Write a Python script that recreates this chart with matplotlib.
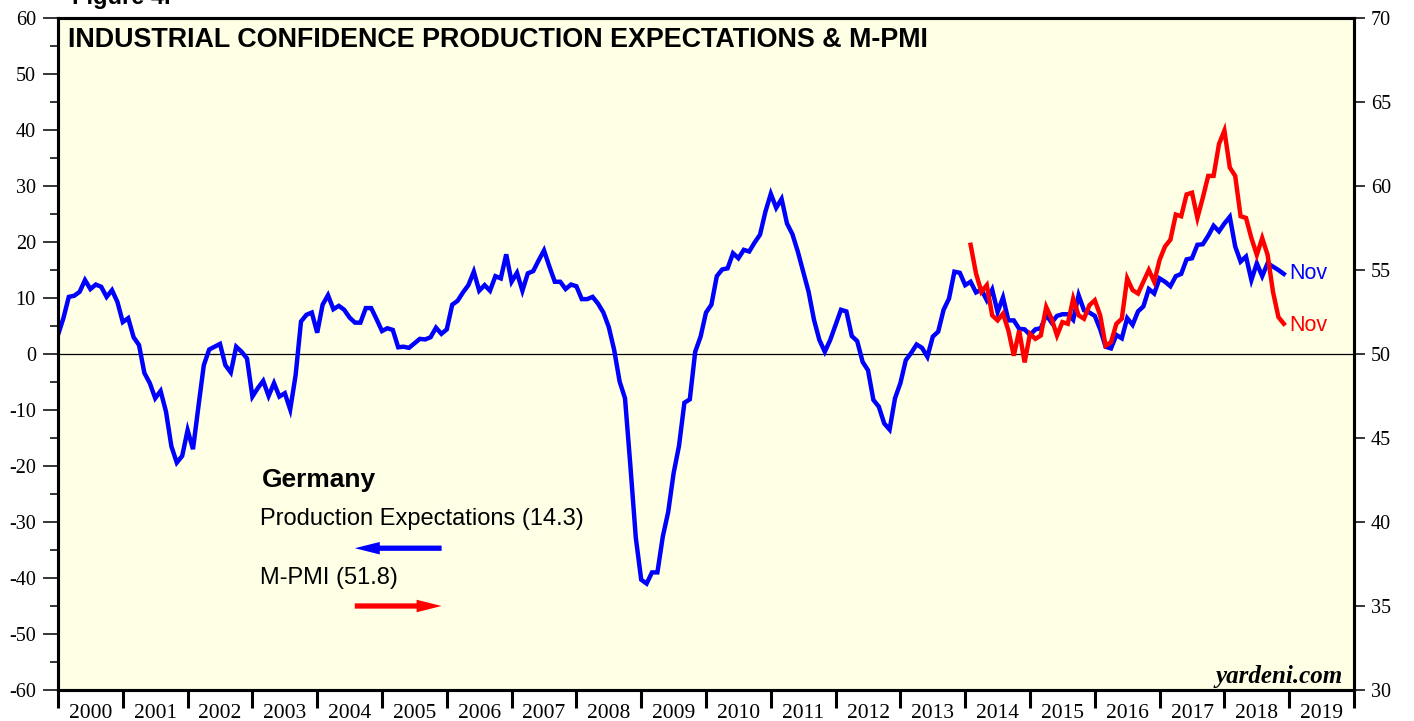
import numpy as np
import pandas as pd
import matplotlib
matplotlib.use('Agg')
import matplotlib.pyplot as plt

plt.rcParams['axes.unicode_minus'] = False

# Germany: industrial confidence, production expectations (lhs), monthly, Dec 1999 - Nov 2018
prod_exp = [
    3.4,
    6.4, 10.2, 10.4, 11.1, 13.2, 11.6, 12.4, 12.0, 10.2, 11.4, 9.3, 5.7,            # 2000
    6.4, 3.0, 1.6, -3.4, -5.2, -7.9, -6.6, -10.3, -16.5, -19.4, -18.2, -13.6,      # 2001
    -17.0, -9.4, -2.0, 0.8, 1.3, 1.8, -2.0, -3.3, 1.3, 0.4, -0.8, -7.6,            # 2002
    -6.1, -4.8, -7.5, -5.2, -7.6, -7.0, -9.9, -3.8, 5.8, 7.0, 7.4, 3.8,            # 2003
    8.8, 10.5, 8.0, 8.6, 7.9, 6.5, 5.6, 5.6, 8.2, 8.2, 6.2, 4.1,                   # 2004
    4.6, 4.3, 1.2, 1.3, 1.1, 1.9, 2.7, 2.6, 3.0, 4.7, 3.6, 4.4,                    # 2005
    8.8, 9.5, 11.0, 12.3, 14.7, 11.3, 12.3, 11.3, 13.9, 13.5, 17.8, 12.9,          # 2006
    14.5, 11.3, 14.4, 14.8, 16.7, 18.5, 15.6, 12.9, 12.9, 11.6, 12.4, 12.1,        # 2007
    9.8, 9.8, 10.2, 9.0, 7.4, 4.8, 0.7, -4.9, -7.9, -20.0, -32.8, -40.3,           # 2008
    -41.0, -39.0, -39.0, -32.6, -28.2, -21.3, -16.4, -8.7, -8.1, 0.4, 3.1, 7.4,    # 2009
    8.8, 13.9, 15.1, 15.3, 18.0, 17.1, 18.6, 18.3, 19.9, 21.3, 25.4, 28.6,         # 2010
    26.1, 27.7, 23.3, 21.4, 18.3, 14.7, 11.1, 6.1, 2.5, 0.4, 2.5, 5.2,             # 2011
    7.9, 7.6, 3.2, 2.3, -1.4, -2.9, -8.2, -9.4, -12.4, -13.5, -7.9, -5.2,          # 2012
    -1.1, 0.2, 1.7, 1.1, -0.5, 3.1, 4.0, 7.9, 9.9, 14.7, 14.5, 12.3,              # 2013
    12.9, 11.0, 11.5, 9.6, 11.5, 7.5, 10.1, 6.0, 6.0, 4.5, 4.4, 3.4,               # 2014
    4.4, 4.6, 7.0, 5.6, 6.8, 7.1, 7.1, 6.1, 10.5, 7.8, 7.4, 6.8,                   # 2015
    4.4, 1.3, 1.0, 3.4, 2.8, 6.4, 5.2, 7.6, 8.5, 11.6, 10.8, 13.5,                 # 2016
    12.9, 12.1, 13.9, 14.3, 16.9, 17.1, 19.5, 19.6, 21.1, 22.9, 21.9, 23.3,        # 2017
    24.5, 19.2, 16.5, 17.4, 13.2, 16.2, 13.9, 16.2, 15.6, 15.0, 14.3,              # 2018
]

# Germany: manufacturing PMI (rhs), monthly, Jan 2014 - Nov 2018
m_pmi = [
    56.5, 54.8, 53.7, 54.1, 52.3, 52.0, 52.4, 51.4, 49.9, 51.4, 49.5, 51.2,  # 2014
    50.9, 51.1, 52.8, 52.1, 51.1, 51.9, 51.8, 53.3, 52.3, 52.1, 52.9, 53.2,  # 2015
    52.3, 50.5, 50.7, 51.8, 52.1, 54.5, 53.8, 53.6, 54.3, 55.0, 54.3, 55.6,  # 2016
    56.4, 56.8, 58.3, 58.2, 59.5, 59.6, 58.1, 59.3, 60.6, 60.6, 62.5, 63.3,  # 2017
    61.1, 60.6, 58.2, 58.1, 56.9, 55.9, 56.9, 55.9, 53.7, 52.2, 51.8,        # 2018
]

year_edges = list(range(2000, 2021))
year_labels = [str(y) for y in range(2000, 2020)]
left_ticks = list(range(-60, 61, 10))
right_ticks = list(range(30, 71, 5))


def month_pos(start, n):
    # month-end positions as decimal years
    d = pd.date_range(start, periods=n, freq='ME')
    return np.array(d.year + d.month / 12.0)


x_blue = month_pos('1999-12-31', len(prod_exp))
x_red = month_pos('2014-01-31', len(m_pmi))

serif = 'Liberation Serif'
sans = 'Liberation Sans'

fig = plt.figure(figsize=(14.14, 7.21), dpi=100)
ax = fig.add_axes([58 / 1414, 31 / 721, 1296 / 1414, 672 / 721])
ax.set_facecolor('#FFFFE6')
ax.set_xlim(2000, 2020)
ax.set_ylim(-60, 60)
ax.axhline(0, color='black', lw=0.9, zorder=1)
ax.plot(x_blue, prod_exp, color='#0000FF', lw=3.2, solid_joinstyle='miter', zorder=3)

ax2 = ax.twinx()
ax2.set_ylim(30, 70)
ax2.plot(x_red, m_pmi, color='#FF0000', lw=3.2, solid_joinstyle='miter', zorder=3)

# spines
for a in (ax, ax2):
    for s in a.spines.values():
        s.set_linewidth(2.2)
        s.set_color('black')

# left axis ticks
ax.set_yticks(left_ticks)
ax.set_yticks(list(range(-55, 60, 10)), minor=True)
ax.tick_params(axis='y', which='major', length=11, width=1.1, pad=5, labelsize=14.5)
ax.tick_params(axis='y', which='minor', length=6, width=1.1)
for lb in ax.get_yticklabels():
    lb.set_fontfamily(serif)

# right axis ticks
ax2.set_yticks(right_ticks)
ax2.tick_params(axis='y', which='major', length=8, width=1.1, pad=4, labelsize=14.5)
for lb in ax2.get_yticklabels():
    lb.set_fontfamily(serif)

# years: ticks at boundaries, labels in between
ax.set_xticks(year_edges)
ax.set_xticklabels([])
ax.tick_params(axis='x', which='major', length=13, width=2.2)
ax.set_xticks([y + 0.5 for y in range(2000, 2020)], minor=True)
ax.set_xticklabels(year_labels, minor=True, fontsize=15.5, fontfamily=serif)
ax.tick_params(axis='x', which='minor', length=0, pad=10)

# title and notes
ax.text(0.0077, 0.967, 'INDUSTRIAL CONFIDENCE PRODUCTION EXPECTATIONS & M-PMI',
        transform=ax.transAxes, fontsize=19.4, fontweight='bold', fontfamily=sans,
        va='center', ha='left')
fig.text(72 / 1414, 1 - 4 / 721, 'Figure 4.', fontsize=17, fontweight='bold',
         fontfamily=sans, va='baseline', ha='left')
ax.text(0.9915, 0.0208, 'yardeni.com', transform=ax.transAxes, fontsize=18,
        fontweight='bold', fontstyle='italic', fontfamily=serif, ha='right', va='center')

# legend block
ax.text(0.157, 0.3125, 'Germany', transform=ax.transAxes, fontsize=19,
        fontweight='bold', fontfamily=sans, va='center', ha='left')
ax.text(0.156, 0.2545, 'Production Expectations (14.3)', transform=ax.transAxes,
        fontsize=17, fontfamily=sans, va='center', ha='left')
ax.text(0.156, 0.1667, 'M-PMI (51.8)', transform=ax.transAxes,
        fontsize=17, fontfamily=sans, va='center', ha='left')
ax.annotate('', xy=(0.229, 0.211), xytext=(0.296, 0.211), xycoords='axes fraction',
            arrowprops=dict(width=3.8, headwidth=9, headlength=18, shrink=0,
                            color='#0000FF', lw=0))
ax.annotate('', xy=(0.296, 0.125), xytext=(0.229, 0.125), xycoords='axes fraction',
            arrowprops=dict(width=3.8, headwidth=9, headlength=18, shrink=0,
                            color='#FF0000', lw=0))

# end labels
ax.annotate('Nov', xy=(x_blue[-1], prod_exp[-1]), xytext=(4, 0), textcoords='offset points',
            color='#0000FF', fontsize=15.5, fontfamily=sans, va='center', ha='left')
ax2.annotate('Nov', xy=(x_red[-1], m_pmi[-1]), xytext=(4, -1), textcoords='offset points',
             color='#FF0000', fontsize=15.5, fontfamily=sans, va='center', ha='left')

fig.savefig('out.png', dpi=100)
